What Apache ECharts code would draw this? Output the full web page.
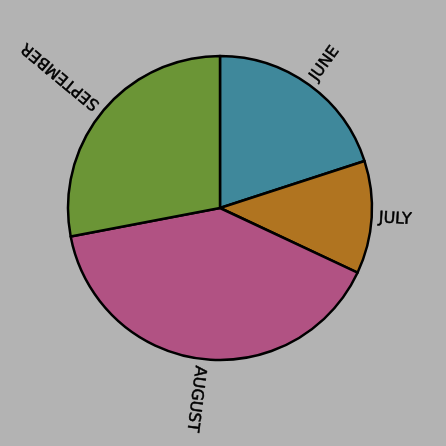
<!DOCTYPE html>
<html>
<head>
<meta charset="utf-8">
<script src="https://cdn.jsdelivr.net/npm/echarts@6/dist/echarts.min.js"></script>
<style>
  html, body { margin: 0; padding: 0; background: #b3b3b3; }
  #chart { width: 446px; height: 446px; }
</style>
</head>
<body>
<div id="chart"></div>
<script>
// months and their shares
const months = ['JUNE', 'JULY', 'AUGUST', 'SEPTEMBER']
const shares = [20, 12, 40, 28]
const colors = ['#3f889b', '#b07420', '#b15283', '#6b9536']

const cx = 220
const cy = 208
const R = 152
const gap = 7

const total = shares.reduce((a, b) => a + b, 0)
// mid angle of each slice, clockwise from 12 o'clock, in degrees
let acc = 0
const midAngles = shares.map(v => {
  const m = (acc + v / 2) / total * 360
  acc += v
  return m
})

const chart = echarts.init(document.getElementById('chart'))
chart.setOption({
  backgroundColor: '#b3b3b3',
  animation: false,
  series: [{
    type: 'pie',
    center: [cx, cy],
    radius: R,
    startAngle: 90,
    clockwise: true,
    avoidLabelOverlap: false,
    itemStyle: {
      borderColor: '#000',
      borderWidth: 2.5
    },
    label: {
      show: true,
      position: 'outside',
      color: '#000',
      fontFamily: 'DejaVu Sans',
      fontSize: 16,
      textBorderColor: '#000',
      textBorderWidth: 0.5
    },
    labelLine: { show: false, length: 0, length2: 0 },
    labelLayout: function (params) {
      const a = midAngles[params.dataIndex]
      const rad = a * Math.PI / 180
      return {
        x: cx + (R + gap) * Math.sin(rad),
        y: cy - (R + gap) * Math.cos(rad),
        rotate: 90 - a,
        align: 'left',
        verticalAlign: 'middle'
      }
    },
    data: months.map((m, i) => ({
      name: m,
      value: shares[i],
      itemStyle: { color: colors[i] }
    }))
  }]
})
</script>
</body>
</html>
